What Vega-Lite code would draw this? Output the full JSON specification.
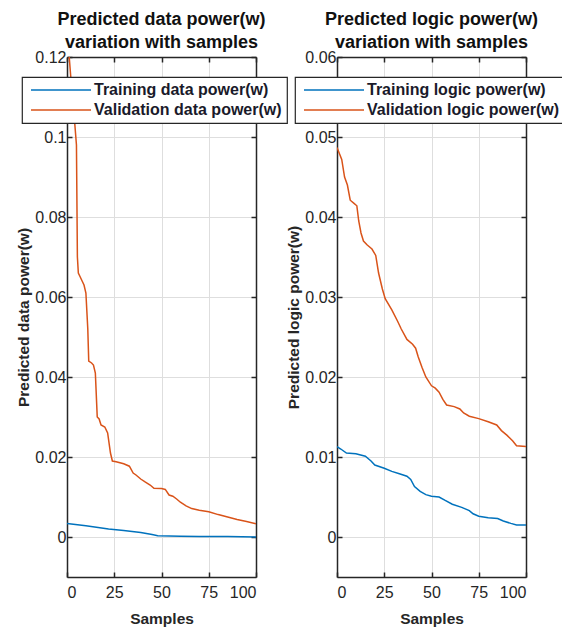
{
  "$schema": "https://vega.github.io/schema/vega-lite/v6.json",
  "padding": {"left": 16, "top": 11, "right": 0, "bottom": 5},
  "background": "white",
  "config": {
    "font": "Liberation Sans",
    "view": {"stroke": null},
    "axis": {
      "labelFont": "Liberation Sans", "labelFontSize": 16, "labelColor": "#262626",
      "titleFont": "Liberation Sans", "titleFontSize": 15.5, "titleFontWeight": "bold", "titleColor": "#262626",
      "domainColor": "#262626", "domainWidth": 1.5, "tickColor": "#262626", "tickWidth": 1.5,
      "gridColor": "#dedede", "gridWidth": 1
    },
    "title": {"font": "Liberation Sans", "fontSize": 18, "fontWeight": "bold", "color": "#111111", "lineHeight": 23, "anchor": "middle", "offset": -3},
    "legend": {
      "orient": "none", "direction": "vertical", "title": null,
      "fillColor": "white", "strokeColor": "#262626", "strokeWidth": 1.2, "cornerRadius": 0,
      "padding": 5, "rowPadding": 4, "labelLimit": 400,
      "labelFont": "Liberation Sans", "labelFontSize": 16, "labelFontWeight": "bold", "labelColor": "#1a1a2a",
      "symbolType": "M-6,0H6", "symbolSize": 100, "symbolStrokeWidth": 1.5, "symbolOffset": 26, "labelOffset": 25
    }
  },
  "datasets": {
    "data_power": [
      {"sample": 0, "power": 0.0034, "series": "Training data power(w)"},
      {"sample": 10, "power": 0.0028, "series": "Training data power(w)"},
      {"sample": 22, "power": 0.0020, "series": "Training data power(w)"},
      {"sample": 30, "power": 0.0016, "series": "Training data power(w)"},
      {"sample": 39, "power": 0.0011, "series": "Training data power(w)"},
      {"sample": 45, "power": 0.0006, "series": "Training data power(w)"},
      {"sample": 48, "power": 0.0003, "series": "Training data power(w)"},
      {"sample": 60, "power": 0.0002, "series": "Training data power(w)"},
      {"sample": 70, "power": 0.0001, "series": "Training data power(w)"},
      {"sample": 85, "power": 0.0001, "series": "Training data power(w)"},
      {"sample": 100, "power": 0.0, "series": "Training data power(w)"},
      {"sample": 0, "power": 0.13, "series": "Validation data power(w)"},
      {"sample": 1, "power": 0.121, "series": "Validation data power(w)"},
      {"sample": 2, "power": 0.115, "series": "Validation data power(w)"},
      {"sample": 3, "power": 0.11, "series": "Validation data power(w)"},
      {"sample": 4, "power": 0.104, "series": "Validation data power(w)"},
      {"sample": 5, "power": 0.098, "series": "Validation data power(w)"},
      {"sample": 5.5, "power": 0.07, "series": "Validation data power(w)"},
      {"sample": 6, "power": 0.066, "series": "Validation data power(w)"},
      {"sample": 7, "power": 0.065, "series": "Validation data power(w)"},
      {"sample": 8, "power": 0.064, "series": "Validation data power(w)"},
      {"sample": 9, "power": 0.063, "series": "Validation data power(w)"},
      {"sample": 10, "power": 0.061, "series": "Validation data power(w)"},
      {"sample": 11, "power": 0.052, "series": "Validation data power(w)"},
      {"sample": 11.5, "power": 0.044, "series": "Validation data power(w)"},
      {"sample": 13, "power": 0.0435, "series": "Validation data power(w)"},
      {"sample": 14, "power": 0.043, "series": "Validation data power(w)"},
      {"sample": 15, "power": 0.041, "series": "Validation data power(w)"},
      {"sample": 16, "power": 0.030, "series": "Validation data power(w)"},
      {"sample": 17, "power": 0.0295, "series": "Validation data power(w)"},
      {"sample": 18, "power": 0.028, "series": "Validation data power(w)"},
      {"sample": 20, "power": 0.0275, "series": "Validation data power(w)"},
      {"sample": 21.5, "power": 0.026, "series": "Validation data power(w)"},
      {"sample": 23, "power": 0.021, "series": "Validation data power(w)"},
      {"sample": 24, "power": 0.019, "series": "Validation data power(w)"},
      {"sample": 26, "power": 0.0188, "series": "Validation data power(w)"},
      {"sample": 30, "power": 0.0183, "series": "Validation data power(w)"},
      {"sample": 33, "power": 0.0177, "series": "Validation data power(w)"},
      {"sample": 35, "power": 0.016, "series": "Validation data power(w)"},
      {"sample": 36.5, "power": 0.0155, "series": "Validation data power(w)"},
      {"sample": 39, "power": 0.0145, "series": "Validation data power(w)"},
      {"sample": 41.5, "power": 0.0137, "series": "Validation data power(w)"},
      {"sample": 44, "power": 0.013, "series": "Validation data power(w)"},
      {"sample": 46, "power": 0.0122, "series": "Validation data power(w)"},
      {"sample": 50, "power": 0.0121, "series": "Validation data power(w)"},
      {"sample": 52, "power": 0.0119, "series": "Validation data power(w)"},
      {"sample": 54, "power": 0.0105, "series": "Validation data power(w)"},
      {"sample": 56, "power": 0.0102, "series": "Validation data power(w)"},
      {"sample": 58, "power": 0.0095, "series": "Validation data power(w)"},
      {"sample": 60, "power": 0.0087, "series": "Validation data power(w)"},
      {"sample": 63, "power": 0.0078, "series": "Validation data power(w)"},
      {"sample": 66, "power": 0.0071, "series": "Validation data power(w)"},
      {"sample": 70, "power": 0.0067, "series": "Validation data power(w)"},
      {"sample": 75, "power": 0.0063, "series": "Validation data power(w)"},
      {"sample": 80, "power": 0.0056, "series": "Validation data power(w)"},
      {"sample": 85, "power": 0.005, "series": "Validation data power(w)"},
      {"sample": 90, "power": 0.0044, "series": "Validation data power(w)"},
      {"sample": 95, "power": 0.0039, "series": "Validation data power(w)"},
      {"sample": 100, "power": 0.0033, "series": "Validation data power(w)"}
    ],
    "logic_power": [
      {"sample": 0, "power": 0.0113, "series": "Training logic power(w)"},
      {"sample": 2, "power": 0.011, "series": "Training logic power(w)"},
      {"sample": 5, "power": 0.0105, "series": "Training logic power(w)"},
      {"sample": 10, "power": 0.0104, "series": "Training logic power(w)"},
      {"sample": 15, "power": 0.0101, "series": "Training logic power(w)"},
      {"sample": 18, "power": 0.0095, "series": "Training logic power(w)"},
      {"sample": 20, "power": 0.009, "series": "Training logic power(w)"},
      {"sample": 25, "power": 0.0086, "series": "Training logic power(w)"},
      {"sample": 29, "power": 0.0082, "series": "Training logic power(w)"},
      {"sample": 33, "power": 0.0079, "series": "Training logic power(w)"},
      {"sample": 37, "power": 0.0076, "series": "Training logic power(w)"},
      {"sample": 39, "power": 0.0072, "series": "Training logic power(w)"},
      {"sample": 41, "power": 0.0063, "series": "Training logic power(w)"},
      {"sample": 44, "power": 0.0057, "series": "Training logic power(w)"},
      {"sample": 47, "power": 0.0053, "series": "Training logic power(w)"},
      {"sample": 50, "power": 0.0051, "series": "Training logic power(w)"},
      {"sample": 54, "power": 0.005, "series": "Training logic power(w)"},
      {"sample": 57, "power": 0.0046, "series": "Training logic power(w)"},
      {"sample": 61, "power": 0.0041, "series": "Training logic power(w)"},
      {"sample": 66, "power": 0.0037, "series": "Training logic power(w)"},
      {"sample": 70, "power": 0.0033, "series": "Training logic power(w)"},
      {"sample": 72, "power": 0.0029, "series": "Training logic power(w)"},
      {"sample": 75, "power": 0.0026, "series": "Training logic power(w)"},
      {"sample": 80, "power": 0.0024, "series": "Training logic power(w)"},
      {"sample": 85, "power": 0.0023, "series": "Training logic power(w)"},
      {"sample": 88, "power": 0.002, "series": "Training logic power(w)"},
      {"sample": 92, "power": 0.0017, "series": "Training logic power(w)"},
      {"sample": 95, "power": 0.0015, "series": "Training logic power(w)"},
      {"sample": 100, "power": 0.0015, "series": "Training logic power(w)"},
      {"sample": 0, "power": 0.0487, "series": "Validation logic power(w)"},
      {"sample": 2.5, "power": 0.0472, "series": "Validation logic power(w)"},
      {"sample": 4, "power": 0.045, "series": "Validation logic power(w)"},
      {"sample": 5.5, "power": 0.044, "series": "Validation logic power(w)"},
      {"sample": 7, "power": 0.0421, "series": "Validation logic power(w)"},
      {"sample": 9, "power": 0.0417, "series": "Validation logic power(w)"},
      {"sample": 10.5, "power": 0.0414, "series": "Validation logic power(w)"},
      {"sample": 11.5, "power": 0.0395, "series": "Validation logic power(w)"},
      {"sample": 12.7, "power": 0.038, "series": "Validation logic power(w)"},
      {"sample": 14, "power": 0.037, "series": "Validation logic power(w)"},
      {"sample": 16, "power": 0.0365, "series": "Validation logic power(w)"},
      {"sample": 18.5, "power": 0.036, "series": "Validation logic power(w)"},
      {"sample": 20.5, "power": 0.0352, "series": "Validation logic power(w)"},
      {"sample": 22, "power": 0.033, "series": "Validation logic power(w)"},
      {"sample": 24, "power": 0.031, "series": "Validation logic power(w)"},
      {"sample": 25.5, "power": 0.0298, "series": "Validation logic power(w)"},
      {"sample": 29, "power": 0.0284, "series": "Validation logic power(w)"},
      {"sample": 32, "power": 0.027, "series": "Validation logic power(w)"},
      {"sample": 34, "power": 0.026, "series": "Validation logic power(w)"},
      {"sample": 37, "power": 0.0247, "series": "Validation logic power(w)"},
      {"sample": 40, "power": 0.0241, "series": "Validation logic power(w)"},
      {"sample": 41.6, "power": 0.0236, "series": "Validation logic power(w)"},
      {"sample": 43, "power": 0.0225, "series": "Validation logic power(w)"},
      {"sample": 45, "power": 0.0212, "series": "Validation logic power(w)"},
      {"sample": 47, "power": 0.02, "series": "Validation logic power(w)"},
      {"sample": 50, "power": 0.0189, "series": "Validation logic power(w)"},
      {"sample": 52, "power": 0.0186, "series": "Validation logic power(w)"},
      {"sample": 54, "power": 0.0181, "series": "Validation logic power(w)"},
      {"sample": 56, "power": 0.0172, "series": "Validation logic power(w)"},
      {"sample": 58, "power": 0.0165, "series": "Validation logic power(w)"},
      {"sample": 62, "power": 0.0163, "series": "Validation logic power(w)"},
      {"sample": 65, "power": 0.016, "series": "Validation logic power(w)"},
      {"sample": 67, "power": 0.0155, "series": "Validation logic power(w)"},
      {"sample": 70, "power": 0.0151, "series": "Validation logic power(w)"},
      {"sample": 75, "power": 0.0148, "series": "Validation logic power(w)"},
      {"sample": 80, "power": 0.0144, "series": "Validation logic power(w)"},
      {"sample": 84.5, "power": 0.014, "series": "Validation logic power(w)"},
      {"sample": 87, "power": 0.0133, "series": "Validation logic power(w)"},
      {"sample": 90, "power": 0.0127, "series": "Validation logic power(w)"},
      {"sample": 93, "power": 0.012, "series": "Validation logic power(w)"},
      {"sample": 95, "power": 0.0114, "series": "Validation logic power(w)"},
      {"sample": 100, "power": 0.0113, "series": "Validation logic power(w)"}
    ]
  },
  "hconcat": [
    {
      "width": 189, "height": 520,
      "title": {"text": ["Predicted data power(w)", "variation with samples"]},
      "data": {"name": "data_power"},
      "layer": [
        {
          "mark": {"type": "line", "clip": true, "strokeWidth": 1.5},
          "encoding": {
            "x": {"field": "sample", "type": "quantitative", "scale": {"domain": [0, 100], "nice": false},
                  "axis": {"orient": "bottom", "title": "Samples", "values": [0, 25, 50, 75, 100], "tickSize": -5, "labelPadding": 12, "grid": true, "titlePadding": 11}},
            "y": {"field": "power", "type": "quantitative", "scale": {"domain": [-0.01, 0.12], "nice": false, "zero": false},
                  "axis": {"orient": "left", "title": "Predicted data power(w)", "values": [0, 0.02, 0.04, 0.06, 0.08, 0.1, 0.12], "format": ".2~g", "tickSize": -5, "labelPadding": 6, "grid": true, "titlePadding": 3}},
            "color": {"field": "series", "type": "nominal",
                      "scale": {"domain": ["Training data power(w)", "Validation data power(w)"], "range": ["#0072BD", "#D95319"]},
                      "legend": {"legendX": -45, "legendY": 20}}
          }
        },
        {
          "mark": {"type": "line", "clip": true, "opacity": 0},
          "encoding": {
            "x": {"field": "sample", "type": "quantitative", "scale": {"domain": [0, 100], "nice": false},
                  "axis": {"orient": "top", "title": null, "labels": false, "values": [0, 25, 50, 75, 100], "tickSize": -5, "grid": false}},
            "y": {"field": "power", "type": "quantitative", "scale": {"domain": [-0.01, 0.12], "nice": false, "zero": false},
                  "axis": {"orient": "right", "title": null, "labels": false, "values": [0, 0.02, 0.04, 0.06, 0.08, 0.1, 0.12], "tickSize": -5, "grid": false}}
          }
        }
      ],
      "resolve": {"axis": {"x": "independent", "y": "independent"}}
    },
    {
      "width": 189, "height": 520,
      "title": {"text": ["Predicted logic power(w)", "variation with samples"]},
      "data": {"name": "logic_power"},
      "layer": [
        {
          "mark": {"type": "line", "clip": true, "strokeWidth": 1.5},
          "encoding": {
            "x": {"field": "sample", "type": "quantitative", "scale": {"domain": [0, 100], "nice": false},
                  "axis": {"orient": "bottom", "title": "Samples", "values": [0, 25, 50, 75, 100], "tickSize": -5, "labelPadding": 12, "grid": true, "titlePadding": 11}},
            "y": {"field": "power", "type": "quantitative", "scale": {"domain": [-0.005, 0.06], "nice": false, "zero": false},
                  "axis": {"orient": "left", "title": "Predicted logic power(w)", "values": [0, 0.01, 0.02, 0.03, 0.04, 0.05, 0.06], "format": ".2~g", "tickSize": -5, "labelPadding": 6, "grid": true, "titlePadding": 3}},
            "color": {"field": "series", "type": "nominal",
                      "scale": {"domain": ["Training logic power(w)", "Validation logic power(w)"], "range": ["#0072BD", "#D95319"]},
                      "legend": {"legendX": -42, "legendY": 20}}
          }
        },
        {
          "mark": {"type": "line", "clip": true, "opacity": 0},
          "encoding": {
            "x": {"field": "sample", "type": "quantitative", "scale": {"domain": [0, 100], "nice": false},
                  "axis": {"orient": "top", "title": null, "labels": false, "values": [0, 25, 50, 75, 100], "tickSize": -5, "grid": false}},
            "y": {"field": "power", "type": "quantitative", "scale": {"domain": [-0.005, 0.06], "nice": false, "zero": false},
                  "axis": {"orient": "right", "title": null, "labels": false, "values": [0, 0.01, 0.02, 0.03, 0.04, 0.05, 0.06], "tickSize": -5, "grid": false}}
          }
        }
      ],
      "resolve": {"axis": {"x": "independent", "y": "independent"}}
    }
  ],
  "spacing": 81,
  "bounds": "flush",
  "resolve": {"scale": {"color": "independent"}, "legend": {"color": "independent"}}
}
